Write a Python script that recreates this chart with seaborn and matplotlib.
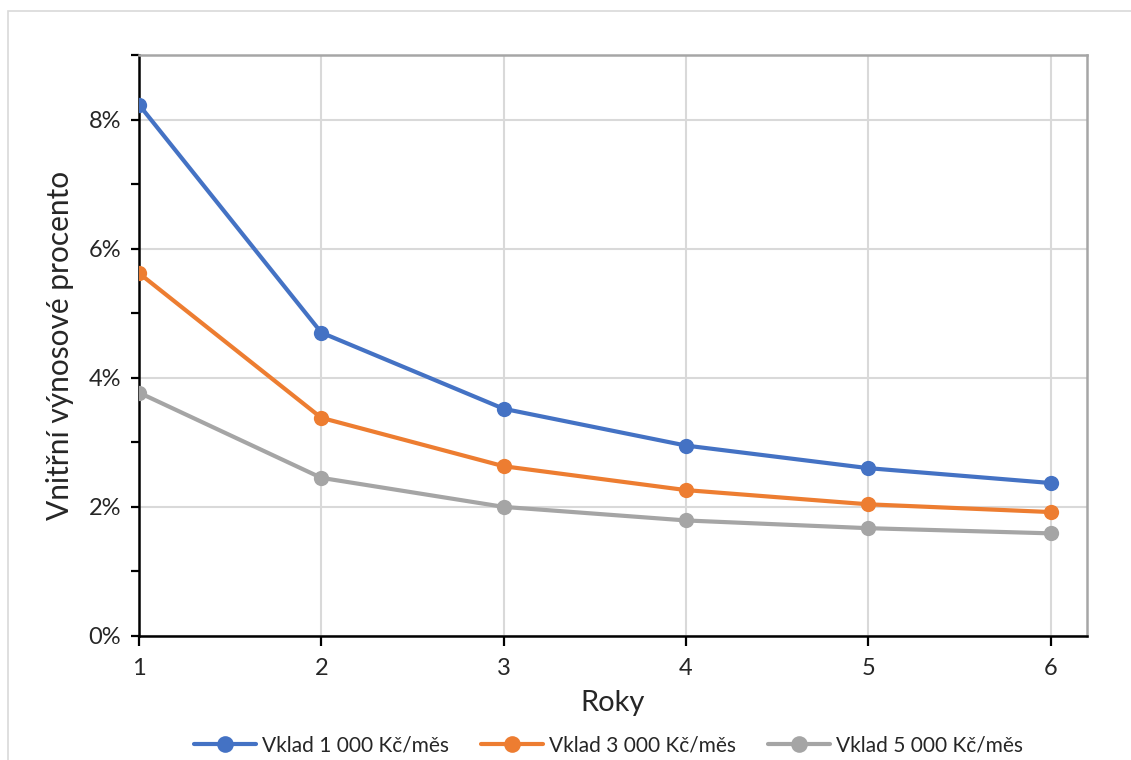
import matplotlib
matplotlib.use("Agg")
import matplotlib.pyplot as plt
from matplotlib.lines import Line2D
from matplotlib.patches import Rectangle
from matplotlib.ticker import MultipleLocator, PercentFormatter
import numpy as np
import pandas as pd
import seaborn as sns

# Data: internal rate of return by number of years for three monthly deposits
years = [1, 2, 3, 4, 5, 6]
vklad_1000 = [8.23, 4.70, 3.52, 2.95, 2.60, 2.37]
vklad_3000 = [5.62, 3.38, 2.63, 2.26, 2.04, 1.92]
vklad_5000 = [3.77, 2.45, 2.00, 1.79, 1.67, 1.59]
series_names = ["Vklad 1 000 Kč/měs", "Vklad 3 000 Kč/měs", "Vklad 5 000 Kč/měs"]
colors = ["#4472C4", "#ED7D31", "#A5A5A5"]

frames = []
for name, vals in zip(series_names, [vklad_1000, vklad_3000, vklad_5000]):
    frames.append(pd.DataFrame({"Roky": years, "IRR": vals, "Série": name}))
df = pd.concat(frames, ignore_index=True)

sns.set_theme(style="white")
plt.rcParams["font.family"] = ["Lato", "DejaVu Sans"]

fig = plt.figure(figsize=(11.31, 7.6), dpi=100)
ax = fig.add_axes([139 / 1131, 1 - 636 / 760, (1087 - 139) / 1131, (636 - 55) / 760])

# chart border
fig.patches.append(Rectangle((8 / 1131, -0.05), 1.1, 1 - 11 / 760 + 0.05,
                             transform=fig.transFigure, fill=False,
                             edgecolor="#D9D9D9", linewidth=1.2))

sns.lineplot(data=df, x="Roky", y="IRR", hue="Série", palette=colors,
             marker="o", markersize=11, markeredgewidth=0, linewidth=3,
             ax=ax, legend=False, zorder=3)

ax.set_xlim(1, 6.2)
ax.set_ylim(0, 9)
ax.set_xticks(years)
ax.yaxis.set_major_locator(MultipleLocator(2))
ax.yaxis.set_minor_locator(MultipleLocator(1))
ax.yaxis.set_major_formatter(PercentFormatter(decimals=0))

ax.grid(True, which="major", color="#D9D9D9", linewidth=1.5, zorder=0)
ax.set_axisbelow(True)

for side in ["left", "bottom"]:
    ax.spines[side].set_color("black")
    ax.spines[side].set_linewidth(1.8)
for side in ["top", "right"]:
    ax.spines[side].set_color("#A6A6A6")
    ax.spines[side].set_linewidth(1.8)
ax.spines["bottom"].set_zorder(4)

ax.tick_params(axis="y", which="major", direction="out", length=6, width=1.6,
               color="black", left=True, labelsize=17, pad=7)
ax.tick_params(axis="y", which="minor", direction="out", length=6, width=1.6,
               color="black", left=True)
ax.tick_params(axis="x", which="major", direction="out", length=7, width=1.6,
               color="black", bottom=True, labelsize=17, pad=9)

ax.set_xlabel("Roky", fontsize=21, labelpad=8)
ax.set_ylabel("Vnitřní výnosové procento", fontsize=21.5, labelpad=10)

handles = [Line2D([0], [0], color=c, linewidth=3, marker="o", markersize=12,
                  markeredgewidth=0) for c in colors]
fig.legend(handles, series_names, loc="center", bbox_to_anchor=(0.538, 1 - 745 / 760),
           ncol=3, frameon=False, fontsize=15, handlelength=3.0,
           columnspacing=1.5, handletextpad=0.3)

fig.savefig("out.png", dpi=100)
